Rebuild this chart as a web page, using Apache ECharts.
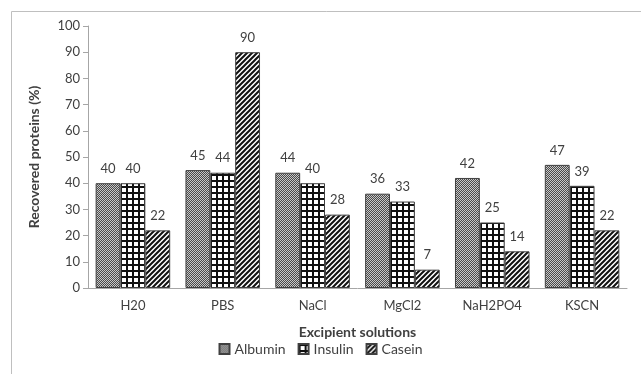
<!DOCTYPE html>
<html><head><meta charset="utf-8">
<script src="https://cdn.jsdelivr.net/npm/echarts@6/dist/echarts.min.js"></script>
<style>html,body{margin:0;padding:0;background:#fff}#c{width:641px;height:374px}</style>
</head><body><div id="c"></div>
<script>
const categories = ['H20', 'PBS', 'NaCl', 'MgCl2', 'NaH2PO4', 'KSCN'];
const albumin = [40, 45, 44, 36, 42, 47];
const insulin = [40, 44, 40, 33, 25, 39];
const casein = [22, 90, 28, 7, 14, 22];
const seriesNames = ['Albumin', 'Insulin', 'Casein'];

function mk(w, h, draw) {
  const c = document.createElement('canvas'); c.width = w; c.height = h;
  const g = c.getContext('2d'); draw(g, w, h); return c;
}
const dotPat = mk(2, 2, (g) => {
  g.fillStyle = '#4a4a4a'; g.fillRect(0, 0, 2, 2);
  g.fillStyle = '#c8c8c8'; g.fillRect(0, 0, 1, 1); g.fillRect(1, 1, 1, 1);
});
const gridPat = mk(6, 6, (g) => {
  g.fillStyle = '#ffffff'; g.fillRect(0, 0, 6, 6);
  g.fillStyle = '#111111'; g.fillRect(0, 0, 6, 2); g.fillRect(0, 0, 2, 6);
});
const stripePat = mk(5, 5, (g) => {
  g.fillStyle = '#ffffff'; g.fillRect(0, 0, 5, 5);
  g.strokeStyle = '#111111'; g.lineWidth = 2;
  g.beginPath();
  g.moveTo(-1, 6); g.lineTo(6, -1);
  g.moveTo(-6, 6); g.lineTo(1, -1);
  g.moveTo(4, 6); g.lineTo(11, -1);
  g.stroke();
});
const pats = [dotPat, gridPat, stripePat];
const datas = [albumin, insulin, casein];
const font = 'Lato, "Open Sans", sans-serif';

const chart = echarts.init(document.getElementById('c'), null, {renderer: 'canvas'});
chart.setOption({
  animation: false,
  backgroundColor: '#fff',
  textStyle: {fontFamily: font},
  graphic: [{type: 'rect', shape: {x: 11.5, y: 11.5, width: 660, height: 400},
    style: {fill: 'none', stroke: '#bfbfbf', lineWidth: 1}}],
  grid: {left: 88, right: 14, top: 26, bottom: 86},
  legend: {
    data: seriesNames, bottom: 13, left: 'center', itemWidth: 10, itemHeight: 10,
    itemGap: 12, icon: 'rect',
    textStyle: {fontSize: 14, color: '#404040', fontFamily: font}
  },
  xAxis: {
    type: 'category', data: categories,
    name: 'Excipient solutions', nameLocation: 'middle', nameGap: 37,
    nameTextStyle: {fontSize: 14, fontWeight: 'bold', color: '#404040', fontFamily: font},
    axisLine: {lineStyle: {color: '#a6a6a6'}},
    axisTick: {show: false},
    axisLabel: {fontSize: 13, color: '#404040', margin: 11}
  },
  yAxis: {
    type: 'value', min: 0, max: 100, interval: 10,
    name: 'Recovered proteins (%)', nameLocation: 'middle', nameGap: 47,
    nameTextStyle: {fontSize: 14, fontWeight: 'bold', color: '#404040', fontFamily: font},
    axisLine: {show: true, lineStyle: {color: '#a6a6a6'}},
    axisTick: {show: true, length: 5, lineStyle: {color: '#a6a6a6'}},
    splitLine: {show: false},
    axisLabel: {fontSize: 13, color: '#404040', margin: 8}
  },
  series: seriesNames.map((n, i) => ({
    name: n, type: 'bar', data: datas[i],
    barGap: '0%', barCategoryGap: '17%',
    itemStyle: {color: {image: pats[i], repeat: 'repeat'}, borderColor: '#404040', borderWidth: 1},
    label: {show: true, position: 'top', distance: 8, fontSize: 13, color: '#404040', fontFamily: font}
  }))
});
</script></body></html>
